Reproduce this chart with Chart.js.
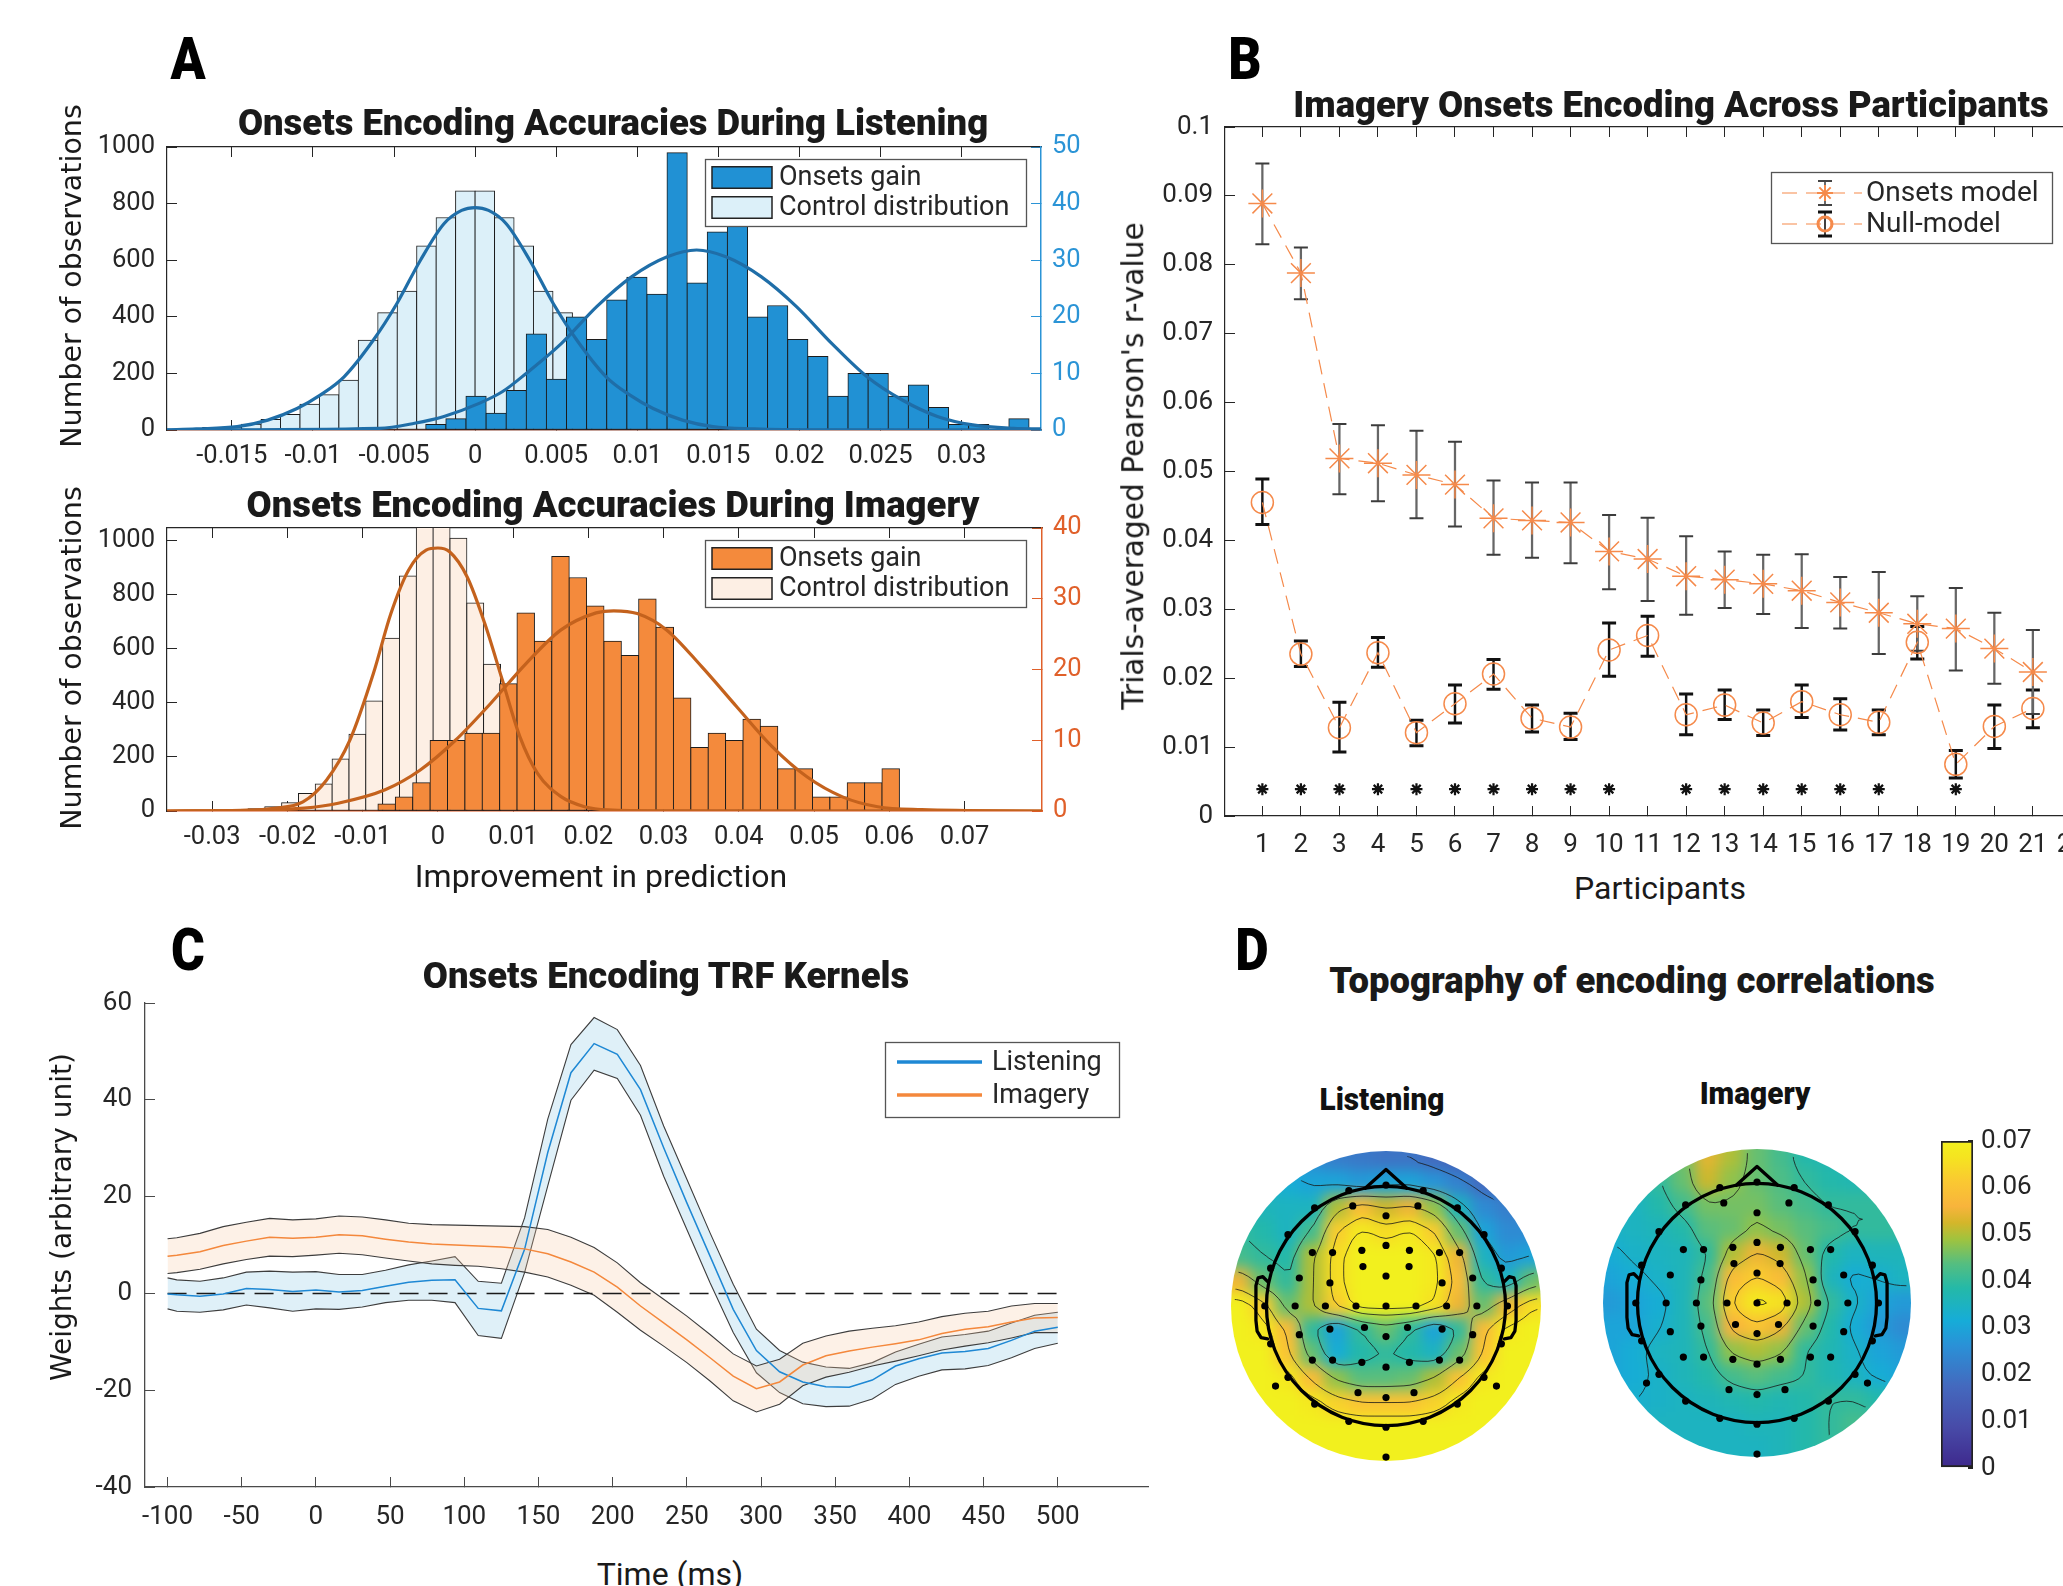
<!DOCTYPE html>
<html>
<head>
<meta charset="utf-8">
<title>Onsets encoding figure</title>
<script src="https://cdn.jsdelivr.net/npm/chart.js@4.4.1/dist/chart.umd.min.js"></script>
<style>
  html, body { margin:0; padding:0; background:#ffffff; }
  #stage { position:relative; width:2063px; height:1586px; overflow:hidden; background:#fff; }
  .t { position:absolute; white-space:nowrap; line-height:1; z-index:5; }
  .ttl { font-family: Roboto, 'Noto Sans', sans-serif; font-weight:900; font-size:37px; color:#1a1a1a; transform: translate(-50%,-50%) scaleX(0.985); }
  .letter { font-family: Roboto, sans-serif; font-weight:900; font-size:60px; color:#000; transform: translate(-50%,-50%) scaleX(0.86); }
  .ylab { font-family: 'DejaVu Sans', sans-serif; font-size:28.5px; color:#1a1a1a; transform: translate(-50%,-50%) rotate(-90deg); }
  .xlab { font-family: Roboto, sans-serif; font-size:32px; color:#1a1a1a; transform: translate(-50%,-50%); }
  .sub { font-family: Roboto, sans-serif; font-weight:900; font-size:31px; color:#111; transform: translate(-50%,-50%) scaleX(0.96); }
  .cv { position:absolute; z-index:1; }
  .cv canvas { display:block; }
</style>
</head>
<body>
<div id="stage">
  <div class="t letter" style="left:188px;top:59px;">A</div>
  <div class="t letter" style="left:1245px;top:59px;">B</div>
  <div class="t letter" style="left:188px;top:950px;">C</div>
  <div class="t letter" style="left:1252px;top:950px;">D</div>

  <div class="t ttl" style="left:613px;top:122px;">Onsets Encoding Accuracies During Listening</div>
  <div class="t ttl" style="left:613px;top:504px;">Onsets Encoding Accuracies During Imagery</div>
  <div class="t ttl" style="left:1671px;top:104px;">Imagery Onsets Encoding Across Participants</div>
  <div class="t ttl" style="left:666px;top:975px;">Onsets Encoding TRF Kernels</div>
  <div class="t ttl" style="left:1632px;top:980px;">Topography of encoding correlations</div>
  <div class="t sub" style="left:1382px;top:1099px;">Listening</div>
  <div class="t sub" style="left:1755px;top:1093px;">Imagery</div>

  <div class="t ylab" style="left:72px;top:276px;">Number of observations</div>
  <div class="t ylab" style="left:72px;top:658px;">Number of observations</div>
  <div class="t xlab" style="left:601px;top:876px;">Improvement in prediction</div>
  <div class="t ylab" style="left:1134px;top:466px;font-size:29.6px;">Trials-averaged Pearson's r-value</div>
  <div class="t xlab" style="left:1660px;top:888px;">Participants</div>
  <div class="t ylab" style="left:62px;top:1217px;font-size:28px;">Weights (arbitrary unit)</div>
  <div class="t xlab" style="left:670px;top:1574px;">Time (ms)</div>
</div>
<script>
// ======================= DATA =======================
// ---- Panel A (top): listening ----
const aTopControlX = [-0.0174,-0.0162,-0.015,-0.0138,-0.0126,-0.0114,-0.0102,-0.009,-0.0078,-0.0066,-0.0054,-0.0042,-0.003,-0.0018,-0.0006,0.0006,0.0018,0.003,0.0042,0.0054,0.0066,0.0078,0.009,0.0102,0.0114,0.0126,0.0138,0.015,0.0162];
const aTopControlCounts = [4,9,10,21,38,55,92,125,176,318,415,491,651,751,845,845,751,651,491,415,318,176,125,92,55,38,21,10,6];
const aTopGainX = [-0.00242,-0.00118,0.00006,0.0013,0.00254,0.00378,0.00502,0.00626,0.0075,0.00874,0.00998,0.01122,0.01246,0.0137,0.01494,0.01618,0.01742,0.01866,0.0199,0.02114,0.02238,0.02362,0.02486,0.0261,0.02734,0.02858,0.02982,0.03106,0.0323,0.03354];
const aTopGainCounts = [1,2,6,3,7,17,9,20,16,23,27,24,49,26,35,36,20,22,16,13,6,10,10,6,8,4,1,1,0,2];
const aTopControlFitX = [-0.019,-0.0172,-0.01467,-0.01279,-0.01098,-0.00953,-0.00808,-0.00627,-0.00482,-0.00337,-0.00192,-0.00083,0,0.00083,0.00192,0.00337,0.00482,0.00627,0.00808,0.00953,0.01098,0.01279,0.01467,0.0172,0.021,0.0349];
const aTopControlFitY = [0.5,4,12,35,76,124,188,318,447,600,729,776,786,776,729,600,447,318,188,124,76,35,12,4,0.5,0];
const aTopGainFitX = [-0.019,-0.0059,-0.00373,-0.00192,0.00025,0.0017,0.00315,0.00533,0.0075,0.00967,0.01185,0.01366,0.01547,0.01764,0.01982,0.02199,0.02417,0.02634,0.02851,0.03069,0.03322,0.0349];
const aTopGainFitY = [0,0.3,1.2,2.4,4.7,6.8,10,15.3,21.8,27.1,30.6,31.8,30.6,27.1,21.8,15.3,9.4,5.3,2.4,0.9,0.3,0.2];
const aTopXTicks = [-0.015,-0.01,-0.005,0,0.005,0.01,0.015,0.02,0.025,0.03];
const aTopXLabels = ['-0.015','-0.01','-0.005','0','0.005','0.01','0.015','0.02','0.025','0.03'];
const aTopLeftTicks = [0,200,400,600,800,1000];
const aTopRightTicks = [0,10,20,30,40,50];

// ---- Panel A (bottom): imagery ----
const aBotControlX = [-0.02859,-0.02635,-0.02411,-0.02188,-0.01964,-0.0174,-0.01517,-0.01293,-0.01069,-0.00846,-0.00622,-0.00398,-0.00174,0.00049,0.00273,0.00497,0.0072,0.00944,0.01167,0.01391,0.01615,0.01838,0.02062,0.02286];
const aBotControlCounts = [6,4,9,16,31,65,100,193,284,407,639,869,1150,1100,1009,769,543,360,237,151,53,22,10,4];
const aBotGainX = [-0.0068,-0.00449,-0.00218,0.00013,0.00244,0.00475,0.00706,0.00937,0.01168,0.01399,0.0163,0.01861,0.02092,0.02323,0.02554,0.02785,0.03016,0.03247,0.03478,0.03709,0.0394,0.04171,0.04402,0.04633,0.04864,0.05095,0.05326,0.05557,0.05788,0.06019];
const aBotGainCounts = [1,2,4,10,10,11,11,18,28,24,36,33,29,24,22,30,26,16,9,11,10,13,12,6,6,2,2,4,4,6];
const aBotControlFitX = [-0.036,-0.026,-0.02182,-0.01793,-0.01481,-0.01169,-0.00857,-0.00624,-0.0039,-0.00156,0,0.00156,0.0039,0.00624,0.00857,0.01091,0.01325,0.01637,0.01949,0.0226,0.03,0.0803];
const aBotControlFitY = [0,2,10,34,114,262,508,730,890,964,972,958,865,693,484,274,139,53,16,4,0.5,0];
const aBotGainFitX = [-0.036,-0.025,-0.01777,-0.01325,-0.00701,-0.00234,0.00234,0.00701,0.01169,0.01637,0.02104,0.02338,0.0265,0.0304,0.03507,0.03975,0.04443,0.0491,0.05378,0.05846,0.0643,0.0803];
const aBotGainFitY = [0,0.1,0.4,1.1,3.0,5.8,10,15.2,20.8,25.6,28,28.3,27.9,25.6,20.4,14.7,9.1,4.8,2.0,0.6,0.2,0];
const aBotXTicks = [-0.03,-0.02,-0.01,0,0.01,0.02,0.03,0.04,0.05,0.06,0.07];
const aBotXLabels = ['-0.03','-0.02','-0.01','0','0.01','0.02','0.03','0.04','0.05','0.06','0.07'];
const aBotLeftTicks = [0,200,400,600,800,1000];
const aBotRightTicks = [0,10,20,30,40];

// ---- Panel B: participants ----
const participants = [1,2,3,4,5,6,7,8,9,10,11,12,13,14,15,16,17,18,19,20,21];
const onsetsMean = [0.0889,0.0788,0.0519,0.0512,0.0495,0.0481,0.0432,0.0429,0.0426,0.0384,0.0373,0.0348,0.0343,0.0337,0.0327,0.0310,0.0295,0.0279,0.0272,0.0243,0.0209];
const onsetsHi   = [0.0947,0.0825,0.0569,0.0567,0.0559,0.0543,0.0487,0.0484,0.0484,0.0437,0.0433,0.0406,0.0384,0.0379,0.0380,0.0347,0.0354,0.0319,0.0331,0.0295,0.0270];
const onsetsLo   = [0.0830,0.0750,0.0467,0.0457,0.0432,0.0420,0.0379,0.0375,0.0367,0.0329,0.0312,0.0292,0.0302,0.0293,0.0273,0.0272,0.0235,0.0240,0.0211,0.0192,0.0148];
const nullMean   = [0.0455,0.0235,0.0128,0.0237,0.0121,0.0163,0.0206,0.0142,0.0129,0.0241,0.0262,0.0147,0.0161,0.0135,0.0166,0.0147,0.0136,0.0252,0.0075,0.0130,0.0156];
const nullHi     = [0.0489,0.0254,0.0165,0.0259,0.0139,0.0190,0.0227,0.0161,0.0149,0.0280,0.0290,0.0177,0.0183,0.0154,0.0190,0.0170,0.0154,0.0275,0.0095,0.0161,0.0183];
const nullLo     = [0.0423,0.0217,0.0093,0.0216,0.0102,0.0135,0.0184,0.0122,0.0111,0.0203,0.0232,0.0118,0.0140,0.0117,0.0143,0.0125,0.0118,0.0228,0.0055,0.0098,0.0128];
const sigParticipants = [1,2,3,4,5,6,7,8,9,10,12,13,14,15,16,17,19];
const sigMarkY = 0.0039;
const bXTicks = [1,2,3,4,5,6,7,8,9,10,11,12,13,14,15,16,17,18,19,20,21,22];
const bXLabels = ['1','2','3','4','5','6','7','8','9','10','11','12','13','14','15','16','17','18','19','20','21','22'];
const bYTicks = [0,0.01,0.02,0.03,0.04,0.05,0.06,0.07,0.08,0.09,0.1];
const bYLabels = ['0','0.01','0.02','0.03','0.04','0.05','0.06','0.07','0.08','0.09','0.1'];

// ---- Panel C: TRF kernels ----
const cTimes = [-100,-93.75,-78.13,-62.5,-46.88,-31.25,-15.63,0,15.63,31.25,46.88,62.5,78.13,93.75,109.38,125,140.63,156.25,171.88,187.5,203.13,218.75,234.38,250,265.63,281.25,296.88,312.5,328.13,343.75,359.38,375,390.63,406.25,421.88,437.5,453.13,468.75,484.38,500];
const listenMean  = [-0.1,-0.3,-0.6,-0.1,1.0,0.8,0.4,0.7,0.3,0.6,1.5,2.3,2.7,2.8,-3.1,-3.6,9.1,29.1,45.6,51.6,49.4,42.1,30.1,18.7,7.7,-3.3,-11.8,-16.2,-18.3,-19.3,-19.4,-17.9,-15.0,-13.5,-12.3,-12.0,-11.4,-9.7,-7.8,-7.0];
const listenUpper = [3.2,2.8,2.5,3.2,4.4,4.6,4.4,4.5,3.9,3.9,4.8,5.9,6.7,7.6,2.5,2.1,15.6,36.0,51.4,57.0,54.5,47.1,34.6,23.6,12.5,1.9,-7.4,-11.8,-14.2,-15.2,-15.5,-14.3,-12.1,-10.5,-9.0,-8.5,-7.8,-6.1,-4.5,-3.9];
const listenLower = [-3.2,-3.7,-3.9,-3.4,-2.4,-3.0,-3.7,-3.2,-3.3,-2.8,-1.9,-1.4,-1.4,-1.9,-8.7,-9.3,4.3,22.2,39.9,46.1,44.4,36.8,24.2,13.2,2.2,-8.1,-16.4,-20.5,-22.8,-23.4,-23.3,-21.8,-18.8,-17.1,-15.8,-15.6,-14.9,-13.3,-11.4,-10.3];
const imagMean  = [7.7,7.9,8.6,9.9,10.8,11.6,11.4,11.6,12.1,11.9,11.2,10.6,10.2,10.0,9.8,9.6,9.2,8.2,6.5,4.4,1.3,-2.6,-6.1,-9.6,-13.3,-17.1,-19.7,-18.3,-14.8,-12.9,-11.9,-11.1,-10.4,-9.6,-8.3,-7.4,-6.9,-5.9,-5.1,-5.0];
const imagUpper = [11.3,11.5,12.4,13.8,14.7,15.5,15.2,15.4,16.0,15.8,15.2,14.5,14.2,14.1,14.0,13.9,13.8,13.2,11.6,9.5,6.3,2.2,-1.2,-4.7,-8.5,-12.5,-15.0,-13.6,-10.3,-8.8,-7.8,-7.2,-6.7,-5.9,-4.8,-4.1,-3.7,-2.6,-2.1,-2.1];
const imagLower = [4.1,4.3,5.0,6.1,7.0,7.7,7.6,7.9,8.3,8.0,7.3,6.7,6.1,5.8,5.6,5.1,4.4,3.4,1.7,-0.4,-3.9,-7.6,-10.9,-14.3,-18.1,-22.2,-24.5,-22.9,-19.1,-17.3,-16.3,-15.0,-14.0,-12.9,-11.7,-10.9,-10.2,-9.2,-8.1,-8.1];
const cZeroLineX = [-100, 500];
const cXTicks = [-100,-50,0,50,100,150,200,250,300,350,400,450,500];
const cXLabels = ['-100','-50','0','50','100','150','200','250','300','350','400','450','500'];
const cYTicks = [-40,-20,0,20,40,60];
const cYLabels = ['-40','-20','0','20','40','60'];

// ---- Panel D: topographies (grid rows from front (top) to back) ----
const topoGridU = [-1.4,-1.2,-1.0,-0.8,-0.6,-0.4,-0.2,0,0.2,0.4,0.6,0.8,1.0,1.2,1.4];
const topoGridV = [1.4,1.2,1.0,0.8,0.6,0.4,0.2,0,-0.2,-0.4,-0.6,-0.8,-1.0,-1.2,-1.4];
const listeningTopo = [
  [0.033,0.033,0.030,0.028,0.025,0.022,0.021,0.020,0.020,0.018,0.015,0.011,0.009,0.008,0.008],
  [0.033,0.033,0.030,0.028,0.025,0.022,0.021,0.020,0.020,0.018,0.015,0.011,0.009,0.008,0.008],
  [0.035,0.035,0.034,0.032,0.030,0.030,0.028,0.030,0.030,0.027,0.023,0.018,0.014,0.012,0.012],
  [0.037,0.037,0.036,0.035,0.035,0.050,0.058,0.052,0.055,0.048,0.035,0.025,0.022,0.020,0.020],
  [0.040,0.040,0.038,0.035,0.042,0.062,0.068,0.065,0.068,0.062,0.045,0.030,0.025,0.025,0.025],
  [0.045,0.042,0.040,0.038,0.050,0.065,0.070,0.070,0.070,0.068,0.055,0.035,0.028,0.030,0.032],
  [0.058,0.055,0.045,0.040,0.050,0.065,0.070,0.070,0.070,0.068,0.058,0.040,0.035,0.045,0.050],
  [0.070,0.070,0.062,0.045,0.050,0.062,0.070,0.070,0.070,0.066,0.055,0.045,0.055,0.065,0.068],
  [0.070,0.070,0.068,0.058,0.040,0.030,0.040,0.045,0.040,0.030,0.040,0.058,0.068,0.070,0.070],
  [0.070,0.070,0.070,0.060,0.045,0.032,0.038,0.040,0.038,0.035,0.045,0.060,0.070,0.070,0.070],
  [0.070,0.070,0.070,0.068,0.058,0.048,0.044,0.044,0.045,0.050,0.060,0.068,0.070,0.070,0.070],
  [0.070,0.070,0.070,0.070,0.068,0.063,0.060,0.060,0.060,0.063,0.068,0.070,0.070,0.070,0.070],
  [0.070,0.070,0.070,0.070,0.070,0.070,0.070,0.070,0.070,0.070,0.070,0.070,0.070,0.070,0.070],
  [0.070,0.070,0.070,0.070,0.070,0.070,0.070,0.070,0.070,0.070,0.070,0.070,0.070,0.070,0.070],
  [0.070,0.070,0.070,0.070,0.070,0.070,0.070,0.070,0.070,0.070,0.070,0.070,0.070,0.070,0.070]
];
const imageryTopo = [
  [0.035,0.035,0.036,0.040,0.046,0.054,0.050,0.045,0.042,0.038,0.037,0.036,0.036,0.036,0.036],
  [0.035,0.035,0.036,0.040,0.046,0.054,0.050,0.045,0.042,0.038,0.037,0.036,0.036,0.036,0.036],
  [0.035,0.035,0.036,0.040,0.045,0.052,0.048,0.045,0.043,0.040,0.038,0.037,0.037,0.037,0.037],
  [0.034,0.034,0.035,0.038,0.042,0.046,0.046,0.046,0.044,0.042,0.040,0.040,0.040,0.040,0.040],
  [0.034,0.034,0.035,0.036,0.038,0.044,0.045,0.048,0.046,0.044,0.042,0.040,0.040,0.040,0.040],
  [0.032,0.032,0.034,0.035,0.036,0.040,0.050,0.055,0.052,0.045,0.038,0.035,0.036,0.036,0.036],
  [0.030,0.030,0.032,0.034,0.036,0.042,0.058,0.062,0.058,0.048,0.036,0.032,0.033,0.035,0.035],
  [0.028,0.028,0.030,0.032,0.036,0.044,0.062,0.068,0.066,0.050,0.040,0.034,0.030,0.028,0.028],
  [0.030,0.030,0.030,0.033,0.036,0.042,0.056,0.060,0.055,0.045,0.038,0.032,0.028,0.025,0.025],
  [0.030,0.030,0.032,0.035,0.036,0.040,0.048,0.050,0.048,0.040,0.037,0.034,0.030,0.028,0.028],
  [0.030,0.030,0.032,0.034,0.036,0.038,0.042,0.044,0.042,0.040,0.037,0.035,0.032,0.030,0.030],
  [0.032,0.032,0.033,0.034,0.035,0.036,0.037,0.038,0.037,0.038,0.040,0.040,0.038,0.036,0.036],
  [0.034,0.034,0.034,0.035,0.035,0.035,0.035,0.036,0.036,0.038,0.040,0.042,0.042,0.040,0.040],
  [0.035,0.035,0.035,0.035,0.035,0.035,0.035,0.035,0.036,0.038,0.040,0.041,0.041,0.040,0.040],
  [0.035,0.035,0.035,0.035,0.035,0.035,0.035,0.035,0.036,0.038,0.040,0.041,0.041,0.040,0.040]
];
const listeningContourLevels = [0.02, 0.03, 0.04, 0.05, 0.06, 0.066];
const imageryContourLevels = [0.033, 0.04, 0.047, 0.054, 0.061, 0.066];
const electrodeU = [0,-0.311,0.311,-0.597,-0.278,0,0.267,0.597,-0.820,0.820,-0.616,-0.447,-0.202,0,0.196,0.447,0.616,-0.965,-0.193,0.193,0.965,-0.725,-0.469,0,0.469,0.725,-1.014,-0.760,-0.507,-0.251,0,0.251,0.507,0.760,1.016,-0.725,-0.469,-0.180,0,0.180,0.469,0.725,-0.965,0.965,-0.616,-0.447,-0.202,0,0.196,0.447,0.616,-0.820,0.820,-0.924,0.924,-0.234,0,0.234,-0.597,0.597,-0.311,0,0.311,0];
const electrodeV = [1.011,0.965,0.965,0.820,0.837,0.755,0.837,0.820,0.597,0.597,0.447,0.447,0.466,0.507,0.466,0.447,0.447,0.316,0.330,0.330,0.316,0.234,0.193,0.251,0.193,0.234,0,0,0,0,0,0,0,0,0,-0.240,-0.193,-0.180,-0.256,-0.180,-0.193,-0.240,-0.316,-0.316,-0.452,-0.452,-0.471,-0.512,-0.471,-0.452,-0.452,-0.597,-0.597,-0.670,-0.670,-0.725,-0.766,-0.725,-0.820,-0.820,-0.965,-1.014,-0.965,-1.264];
const colorbarTicks = [0,0.01,0.02,0.03,0.04,0.05,0.06,0.07];
const colorbarLabels = ['0','0.01','0.02','0.03','0.04','0.05','0.06','0.07'];
const colorbarRange = [0, 0.07];

// ======================= HELPERS =======================
Chart.defaults.font.family = "Roboto, 'DejaVu Sans', sans-serif";
Chart.defaults.animation = false;
const stage = document.getElementById('stage');
function mkCanvas(left, top, w, h, parent) {
  const d = document.createElement('div');
  d.className = 'cv';
  d.style.left = left + 'px'; d.style.top = top + 'px';
  d.style.width = w + 'px'; d.style.height = h + 'px';
  const c = document.createElement('canvas');
  c.width = w; c.height = h; c.style.width = w + 'px'; c.style.height = h + 'px';
  d.appendChild(c);
  (parent || stage).appendChild(d);
  return c;
}
const xy = (xs, ys) => xs.map((x, i) => ({x: x, y: ys[i]}));
const fixW = w => s => { s.width = w; };
const fixH = h => s => { s.height = h; };
const setTicks = vals => s => { s.ticks = vals.map(v => ({value: v})); };
const pxWidth = (s, w) => Math.abs(s.getPixelForValue(w) - s.getPixelForValue(0));
const AX = '#262626';
const PADTOP = 45;
const noPlugins = { legend: {display: false}, tooltip: {enabled: false} };

function boxLegend(cfg) {
  return {
    id: 'boxLegend',
    afterDraw(chart) {
      const ctx = chart.ctx, ox = cfg.ox, oy = cfg.oy;
      const b = cfg.box;
      ctx.save();
      ctx.fillStyle = '#ffffff';
      ctx.fillRect(b[0] - ox, b[1] - oy, b[2], b[3]);
      ctx.strokeStyle = '#555'; ctx.lineWidth = 1.3;
      ctx.strokeRect(b[0] - ox + 0.5, b[1] - oy + 0.5, b[2], b[3]);
      cfg.items.forEach(it => {
        const ds = chart.data.datasets[it.ds];
        const cy = it.y - oy;
        if (it.kind === 'rect') {
          ctx.fillStyle = ds.backgroundColor;
          ctx.fillRect(it.x0 - ox, cy - it.h / 2, it.x1 - it.x0, it.h);
          ctx.strokeStyle = '#222'; ctx.lineWidth = 1.5;
          ctx.strokeRect(it.x0 - ox, cy - it.h / 2, it.x1 - it.x0, it.h);
        } else if (it.kind === 'line') {
          ctx.strokeStyle = ds.borderColor; ctx.lineWidth = 3.5;
          ctx.beginPath(); ctx.moveTo(it.x0 - ox, cy); ctx.lineTo(it.x1 - ox, cy); ctx.stroke();
        } else if (it.kind === 'err') {
          ctx.save();
          ctx.setLineDash(ds.borderDash || []);
          ctx.strokeStyle = ds.borderColor; ctx.lineWidth = 1.2;
          ctx.beginPath(); ctx.moveTo(it.x0 - ox, cy); ctx.lineTo(it.x1 - ox, cy); ctx.stroke();
          ctx.restore();
          const mx = it.mx - ox;
          ctx.strokeStyle = it.errColor; ctx.lineWidth = 1.6;
          ctx.beginPath(); ctx.moveTo(mx, cy - it.eh); ctx.lineTo(mx, cy + it.eh); ctx.stroke();
          ctx.lineWidth = it.capW;
          ctx.beginPath();
          ctx.moveTo(mx - 7, cy - it.eh); ctx.lineTo(mx + 7, cy - it.eh);
          ctx.moveTo(mx - 7, cy + it.eh); ctx.lineTo(mx + 7, cy + it.eh);
          ctx.stroke();
          ctx.strokeStyle = ds.pointBorderColor; ctx.fillStyle = 'rgba(0,0,0,0)';
          Chart.helpers.drawPoint(ctx, {pointStyle: ds.pointStyle, radius: it.mr, borderWidth: 1.5, rotation: 0}, mx, cy);
        }
        ctx.fillStyle = '#262626';
        ctx.font = cfg.font;
        ctx.textAlign = 'left'; ctx.textBaseline = 'middle';
        ctx.fillText(ds.label, cfg.textX - ox, cy + 1);
      });
      ctx.restore();
    }
  };
}

function histChart(o) {
  const top = o.plotTop - PADTOP;
  const cv = mkCanvas(o.left, top, o.w, PADTOP + 283 + 50);
  const tickFont = {family: 'Roboto', size: 25.5};
  const ch = new Chart(cv, {
    type: 'bar',
    data: {
      datasets: [
        {type: 'line', label: 'Control fit', data: xy(o.cFitX, o.cFitY), xAxisID: 'x', yAxisID: 'y',
         borderColor: o.fitColor, borderWidth: 3.2, pointRadius: 0, cubicInterpolationMode: 'monotone', order: 0},
        {type: 'line', label: 'Gain fit', data: xy(o.gFitX, o.gFitY), xAxisID: 'x', yAxisID: 'y2',
         borderColor: o.fitColor, borderWidth: 3.2, pointRadius: 0, cubicInterpolationMode: 'monotone', order: 0},
        {type: 'bar', label: 'Onsets gain', data: xy(o.gX, o.gY), xAxisID: 'xt', yAxisID: 'y2',
         backgroundColor: o.gainColor, borderColor: '#1c1c1c', borderWidth: 1, borderSkipped: false,
         barPercentage: 1, categoryPercentage: 1, grouped: false, clip: 0, order: 1},
        {type: 'bar', label: 'Control distribution', data: xy(o.cX, o.cY), xAxisID: 'x', yAxisID: 'y',
         backgroundColor: o.ctrlColor, borderColor: '#1c1c1c', borderWidth: 1, borderSkipped: false,
         barPercentage: 1, categoryPercentage: 1, grouped: false, clip: 0, order: 2}
      ]
    },
    options: {
      responsive: false, animation: false, events: [],
      layout: {padding: {top: PADTOP, right: 0, left: 0, bottom: 0}},
      plugins: noPlugins,
      scales: {
        x: {type: 'linear', position: 'bottom', min: o.xmin, max: o.xmax, offset: false,
            afterBuildTicks: setTicks(o.xTicks), afterFit: fixH(50),
            grid: {drawOnChartArea: false, tickLength: -10, tickColor: AX, offset: false},
            border: {color: o.baseColor, width: 1.5},
            ticks: {callback: (v, i) => o.xLabels[i], color: AX, font: tickFont, padding: 21, maxRotation: 0, autoSkip: false}},
        xt: {type: 'linear', axis: 'x', position: 'top', min: o.xmin, max: o.xmax, offset: false,
            afterBuildTicks: setTicks(o.xTicks), afterFit: fixH(0),
            grid: {drawOnChartArea: false, tickLength: -10, tickColor: AX, offset: false},
            border: {color: AX, width: 1.2}, ticks: {display: false}},
        y: {type: 'linear', position: 'left', min: 0, max: o.ymax,
            afterBuildTicks: setTicks(o.yTicks), afterFit: fixW(80),
            grid: {drawOnChartArea: false, tickLength: -10, tickColor: AX},
            border: {color: AX, width: 1.2},
            ticks: {callback: v => String(v), color: AX, font: tickFont, padding: 22}},
        y2: {type: 'linear', position: 'right', min: 0, max: o.y2max,
            afterBuildTicks: setTicks(o.y2Ticks), afterFit: fixW(60),
            grid: {drawOnChartArea: false, tickLength: -10, tickColor: o.rightColor},
            border: {color: o.rightColor, width: 1.5},
            ticks: {callback: v => String(v), color: o.rightColor, font: tickFont, padding: 21}}
      }
    },
    plugins: [boxLegend({ox: o.left, oy: top, box: o.legBox, font: '27px Roboto', textX: 779,
      items: [
        {ds: 2, kind: 'rect', x0: 712, x1: 772, h: 21.5, y: o.legY[0]},
        {ds: 3, kind: 'rect', x0: 712, x1: 772, h: 21.5, y: o.legY[1]}
      ]})]
  });
  // histogram bars span exactly one bin width on their own axis
  ch.data.datasets[2].barThickness = pxWidth(ch.scales.xt, o.gX[1] - o.gX[0]) + 0.4;
  ch.data.datasets[3].barThickness = pxWidth(ch.scales.x, o.cX[1] - o.cX[0]) + 0.4;
  ch.update();
  return ch;
}

// ======================= PANEL A =======================
histChart({left: 87, plotTop: 147, w: 1014,
  cX: aTopControlX, cY: aTopControlCounts, gX: aTopGainX, gY: aTopGainCounts,
  cFitX: aTopControlFitX, cFitY: aTopControlFitY, gFitX: aTopGainFitX, gFitY: aTopGainFitY,
  xmin: -0.019, xmax: 0.0349, xTicks: aTopXTicks, xLabels: aTopXLabels,
  ymax: 1000, yTicks: aTopLeftTicks, y2max: 50, y2Ticks: aTopRightTicks,
  ctrlColor: '#dcf0f9', gainColor: '#2191d4', fitColor: '#1f6ea8', rightColor: '#2b94d6', baseColor: '#8e4634',
  legBox: [705, 159, 321, 67], legY: [177.5, 207.5]});

histChart({left: 87, plotTop: 528, w: 1015,
  cX: aBotControlX, cY: aBotControlCounts, gX: aBotGainX, gY: aBotGainCounts,
  cFitX: aBotControlFitX, cFitY: aBotControlFitY, gFitX: aBotGainFitX, gFitY: aBotGainFitY,
  xmin: -0.036, xmax: 0.0803, xTicks: aBotXTicks, xLabels: aBotXLabels,
  ymax: 1046, yTicks: aBotLeftTicks, y2max: 40, y2Ticks: aBotRightTicks,
  ctrlColor: '#fdefe4', gainColor: '#f48a3c', fitColor: '#c4621d', rightColor: '#e0602a', baseColor: '#d9531e',
  legBox: [705, 540, 321, 67], legY: [558.5, 588.5]});

// ======================= PANEL B =======================
(function () {
  const L = 1140, T = 127 - PADTOP, W = 970, H = PADTOP + 689 + 50;
  const cv = mkCanvas(L, T, W, H);
  const OR = '#f58a4b';
  const tf = {family: 'Roboto', size: 26};
  new Chart(cv, {
    type: 'bar',
    data: {
      datasets: [
        {type: 'scatter', label: 'Significance', data: sigParticipants.map(p => ({x: p, y: sigMarkY})),
         pointStyle: 'star', pointRadius: 6, pointBorderWidth: 2.2, borderColor: '#111', backgroundColor: '#111', order: 0},
        {type: 'line', label: 'Onsets model', data: xy(participants, onsetsMean),
         borderColor: OR, borderWidth: 1.2, borderDash: [15, 9], pointStyle: 'star', pointRadius: 14,
         pointBorderWidth: 1.5, pointBorderColor: OR, pointBackgroundColor: 'rgba(0,0,0,0)', order: 1},
        {type: 'line', label: 'Null-model', data: xy(participants, nullMean),
         borderColor: OR, borderWidth: 1.2, borderDash: [15, 9], pointStyle: 'circle', pointRadius: 11,
         pointBorderWidth: 1.5, pointBorderColor: OR, pointBackgroundColor: 'rgba(0,0,0,0)', order: 2},
        {type: 'scatter', label: 'Onsets caps', data: xy(participants, onsetsLo).concat(xy(participants, onsetsHi)),
         pointStyle: 'line', pointRadius: 7, pointBorderWidth: 2, borderColor: '#3c3c3c', order: 3},
        {type: 'bar', label: 'Onsets error', data: participants.map((p, i) => ({x: p, y: [onsetsLo[i], onsetsHi[i]]})),
         backgroundColor: '#666', barThickness: 1.6, grouped: false, order: 4},
        {type: 'scatter', label: 'Null caps', data: xy(participants, nullLo).concat(xy(participants, nullHi)),
         pointStyle: 'line', pointRadius: 7, pointBorderWidth: 3, borderColor: '#111', order: 5},
        {type: 'bar', label: 'Null error', data: participants.map((p, i) => ({x: p, y: [nullLo[i], nullHi[i]]})),
         backgroundColor: '#111', barThickness: 1.8, grouped: false, order: 6}
      ]
    },
    options: {
      responsive: false, animation: false, events: [],
      layout: {padding: {top: PADTOP, right: 10, left: 0, bottom: 0}},
      plugins: noPlugins,
      scales: {
        x: {type: 'linear', position: 'bottom', min: 0.03, max: 22, offset: false,
            afterBuildTicks: setTicks(bXTicks), afterFit: fixH(50),
            grid: {drawOnChartArea: false, tickLength: -10, tickColor: AX, offset: false},
            border: {color: AX, width: 1.2},
            ticks: {callback: (v, i) => bXLabels[i], color: AX, font: tf, padding: 24, maxRotation: 0, autoSkip: false}},
        xt: {type: 'linear', axis: 'x', position: 'top', min: 0.03, max: 22, offset: false,
            afterBuildTicks: setTicks(bXTicks), afterFit: fixH(0),
            grid: {drawOnChartArea: false, tickLength: -10, tickColor: AX, offset: false},
            border: {color: AX, width: 1.2}, ticks: {display: false}},
        y: {type: 'linear', position: 'left', min: 0, max: 0.1,
            afterBuildTicks: setTicks(bYTicks), afterFit: fixW(85),
            grid: {drawOnChartArea: false, tickLength: -10, tickColor: AX},
            border: {color: AX, width: 1.2},
            ticks: {callback: (v, i) => bYLabels[i], color: AX, font: tf, padding: 22}}
      }
    },
    plugins: [boxLegend({ox: L, oy: T, box: [1771, 172, 281, 71], font: '28px Roboto', textX: 1866,
      items: [
        {ds: 1, kind: 'err', x0: 1782, x1: 1862, mx: 1825, y: 193, eh: 12, capW: 2, errColor: '#444', mr: 8},
        {ds: 2, kind: 'err', x0: 1782, x1: 1862, mx: 1825, y: 224, eh: 12, capW: 3, errColor: '#111', mr: 7}
      ]})]
  });
})();

// ======================= PANEL C =======================
(function () {
  const L = 75, T = 1003 - PADTOP, W = 1078, H = PADTOP + 484 + 60;
  const cv = mkCanvas(L, T, W, H);
  const tf = {family: 'Roboto', size: 26};
  const edge = '#3d3d3d';
  new Chart(cv, {
    type: 'line',
    data: {
      datasets: [
        {label: 'Listening upper', data: xy(cTimes, listenUpper), borderColor: edge, borderWidth: 1.1, pointRadius: 0,
         fill: '+1', backgroundColor: 'rgba(127,195,227,0.25)', order: 10},
        {label: 'Listening lower', data: xy(cTimes, listenLower), borderColor: edge, borderWidth: 1.1, pointRadius: 0, order: 9},
        {label: 'Imagery upper', data: xy(cTimes, imagUpper), borderColor: edge, borderWidth: 1.1, pointRadius: 0,
         fill: '+1', backgroundColor: 'rgba(247,199,159,0.25)', order: 8},
        {label: 'Imagery lower', data: xy(cTimes, imagLower), borderColor: edge, borderWidth: 1.1, pointRadius: 0, order: 7},
        {label: 'Zero', data: xy(cZeroLineX, [0, 0]), borderColor: '#1a1a1a', borderWidth: 1.5, borderDash: [19, 10], pointRadius: 0, order: 6},
        {label: 'Listening', data: xy(cTimes, listenMean), borderColor: '#1e88d4', borderWidth: 1.5, pointRadius: 0, order: 5},
        {label: 'Imagery', data: xy(cTimes, imagMean), borderColor: '#f4883c', borderWidth: 1.5, pointRadius: 0, order: 4}
      ]
    },
    options: {
      responsive: false, animation: false, events: [],
      layout: {padding: {top: PADTOP, right: 5, left: 0, bottom: 0}},
      plugins: Object.assign({filler: {propagate: false}}, noPlugins),
      scales: {
        x: {type: 'linear', position: 'bottom', min: -115.2, max: 560.8,
            afterBuildTicks: setTicks(cXTicks), afterFit: fixH(60),
            grid: {drawOnChartArea: false, tickLength: -10, tickColor: '#4a4a4a'},
            border: {color: '#4a4a4a', width: 1.3},
            ticks: {callback: (v, i) => cXLabels[i], color: AX, font: tf, padding: 25, maxRotation: 0, autoSkip: false}},
        y: {type: 'linear', position: 'left', min: -40, max: 60,
            afterBuildTicks: setTicks(cYTicks), afterFit: fixW(70),
            grid: {drawOnChartArea: false, tickLength: -10, tickColor: '#4a4a4a'},
            border: {color: '#4a4a4a', width: 1.3},
            ticks: {callback: (v, i) => cYLabels[i], color: AX, font: tf, padding: 23}}
      }
    },
    plugins: [boxLegend({ox: L, oy: T, box: [885, 1042, 234, 75], font: '27px Roboto', textX: 992,
      items: [
        {ds: 5, kind: 'line', x0: 897, x1: 982, y: 1062},
        {ds: 6, kind: 'line', x0: 897, x1: 982, y: 1095}
      ]})]
  });
})();

// ======================= PANEL D =======================
const PARULA = [[0,62,40,140],[0.125,72,75,168],[0.25,68,105,190],[0.375,42,145,215],[0.45,22,172,216],[0.55,36,185,168],[0.625,85,190,128],[0.7,160,195,62],[0.75,212,182,42],[0.8,248,180,60],[0.875,250,200,50],[0.95,245,228,32],[1,242,240,30]];
function parula(v) {
  const f = Math.max(0, Math.min(1, (v - colorbarRange[0]) / (colorbarRange[1] - colorbarRange[0])));
  for (let i = 1; i < PARULA.length; i++) {
    if (f <= PARULA[i][0]) {
      const a = PARULA[i - 1], b = PARULA[i], t = (f - a[0]) / (b[0] - a[0]);
      return 'rgb(' + [1, 2, 3].map(k => Math.round(a[k] + (b[k] - a[k]) * t)).join(',') + ')';
    }
  }
  return 'rgb(242,240,30)';
}
const headOutline = {
  id: 'headOutline',
  beforeDatasetsDraw(chart) {
    const ctx = chart.ctx, sx = chart.scales.x, sy = chart.scales.y;
    const px = u => sx.getPixelForValue(u), py = v => sy.getPixelForValue(v);
    ctx.save();
    ctx.strokeStyle = '#000'; ctx.lineWidth = 3.3; ctx.lineJoin = 'round'; ctx.lineCap = 'round';
    ctx.beginPath();
    ctx.ellipse(px(0), py(0), px(1) - px(0), py(0) - py(1), 0, 0, Math.PI * 2);
    ctx.stroke();
    const nose = [[-0.174, 0.985], [0, 1.142], [0.174, 0.985]];
    ctx.beginPath();
    nose.forEach((p, i) => i ? ctx.lineTo(px(p[0]), py(p[1])) : ctx.moveTo(px(p[0]), py(p[1])));
    ctx.stroke();
    const ear = [[-0.985, 0.2], [-1.03, 0.245], [-1.07, 0.235], [-1.088, 0.17], [-1.088, -0.12], [-1.078, -0.21], [-1.045, -0.265], [-0.99, -0.275]];
    [1, -1].forEach(sgn => {
      ctx.beginPath();
      ear.forEach((p, i) => i ? ctx.lineTo(px(sgn * p[0]), py(p[1])) : ctx.moveTo(px(sgn * p[0]), py(p[1])));
      ctx.stroke();
    });
    ctx.restore();
  }
};
// thin iso-lines of the read grid (drawn inside the disk)
function contourPlugin(grid, levels, diskUnits) {
  return {
    id: 'contours',
    beforeDatasetsDraw(chart) {
      const ctx = chart.ctx, sx = chart.scales.x, sy = chart.scales.y;
      const nU = topoGridU.length, nV = topoGridV.length, F = 4;
      const M = (nU - 1) * F + 1, N = (nV - 1) * F + 1;
      let A = [];
      for (let j = 0; j < N; j++) {
        const row = [];
        for (let i = 0; i < M; i++) {
          const gu = i / F, gv = j / F;
          const i0 = Math.min(Math.floor(gu), nU - 2), j0 = Math.min(Math.floor(gv), nV - 2);
          const tu = gu - i0, tv = gv - j0;
          row.push((1 - tu) * (1 - tv) * grid[j0][i0] + tu * (1 - tv) * grid[j0][i0 + 1] +
                   (1 - tu) * tv * grid[j0 + 1][i0] + tu * tv * grid[j0 + 1][i0 + 1]);
        }
        A.push(row);
      }
      for (let pass = 0; pass < 3; pass++) {
        const B = A.map(r => r.slice());
        for (let j = 1; j < N - 1; j++) for (let i = 1; i < M - 1; i++) {
          B[j][i] = (A[j][i] * 4 + A[j - 1][i] + A[j + 1][i] + A[j][i - 1] + A[j][i + 1]) / 8;
        }
        A = B;
      }
      const du = (topoGridU[1] - topoGridU[0]) / F, dv = (topoGridV[1] - topoGridV[0]) / F;
      const X = i => sx.getPixelForValue(topoGridU[0] + i * du);
      const Y = j => sy.getPixelForValue(topoGridV[0] + j * dv);
      ctx.save();
      ctx.beginPath();
      ctx.ellipse(sx.getPixelForValue(0), sy.getPixelForValue(0), pxWidth(sx, diskUnits), pxWidth(sy, diskUnits), 0, 0, Math.PI * 2);
      ctx.clip();
      ctx.strokeStyle = 'rgba(25,25,25,0.8)'; ctx.lineWidth = 1;
      levels.forEach(L => {
        ctx.beginPath();
        for (let j = 0; j < N - 1; j++) for (let i = 0; i < M - 1; i++) {
          const c = [[i, j, A[j][i]], [i + 1, j, A[j][i + 1]], [i + 1, j + 1, A[j + 1][i + 1]], [i, j + 1, A[j + 1][i]]];
          const pts = [];
          for (let e = 0; e < 4; e++) {
            const p = c[e], q = c[(e + 1) % 4];
            if ((p[2] < L) !== (q[2] < L)) {
              const t = (L - p[2]) / (q[2] - p[2]);
              pts.push([X(p[0] + (q[0] - p[0]) * t), Y(p[1] + (q[1] - p[1]) * t)]);
            }
          }
          for (let k = 0; k + 1 < pts.length; k += 2) {
            ctx.moveTo(pts[k][0], pts[k][1]); ctx.lineTo(pts[k + 1][0], pts[k + 1][1]);
          }
        }
        ctx.stroke();
      });
      ctx.restore();
    }
  };
}
function topoHead(cx, cy, diskR, grid, levels) {
  const S = 356, R = 1.4554;
  const left = Math.round(cx - S / 2), top = Math.round(cy - S / 2);
  const clip = document.createElement('div');
  clip.className = 'cv';
  clip.style.cssText = `left:${left}px;top:${top}px;width:${S}px;height:${S}px;clip-path:circle(${diskR}px at ${cx - left}px ${cy - top}px);`;
  stage.appendChild(clip);
  const blur = document.createElement('div');
  blur.style.cssText = `position:absolute;left:0;top:0;width:${S}px;height:${S}px;filter:blur(7px);`;
  clip.appendChild(blur);
  const hc = document.createElement('canvas');
  hc.width = S; hc.height = S; hc.style.display = 'block';
  blur.appendChild(hc);
  const pts = [];
  topoGridV.forEach((v, r) => topoGridU.forEach((u, c) => pts.push({x: u, y: v, v: grid[r][c]})));
  const sc = {x: {type: 'linear', min: -R, max: R, display: false}, y: {type: 'linear', min: -R, max: R, display: false}};
  new Chart(hc, {
    type: 'scatter',
    data: {datasets: [{label: 'map', data: pts, pointStyle: 'rect', borderWidth: 0,
      pointRadius: c => pxWidth(c.chart.scales.x, 0.2) / Math.SQRT2 + 1.5,
      backgroundColor: c => parula(c.raw ? c.raw.v : 0)}]},
    options: {responsive: false, animation: false, events: [], layout: {padding: 0}, plugins: noPlugins, scales: sc}
  });
  const oc = mkCanvas(left, top, S, S);
  oc.parentNode.style.zIndex = 2;
  const diskUnits = diskR / (S / (2 * R));
  new Chart(oc, {
    type: 'scatter',
    data: {datasets: [{label: 'Electrodes', data: xy(electrodeU, electrodeV), pointRadius: 3.6,
      backgroundColor: '#000', borderColor: '#000', borderWidth: 0}]},
    options: {responsive: false, animation: false, events: [], layout: {padding: 0}, plugins: noPlugins,
      scales: {x: {type: 'linear', min: -R, max: R, display: false}, y: {type: 'linear', min: -R, max: R, display: false}}},
    plugins: [contourPlugin(grid, levels, diskUnits), headOutline]
  });
}
topoHead(1386, 1306, 155, listeningTopo, listeningContourLevels);
topoHead(1757, 1303, 154, imageryTopo, imageryContourLevels);

// colorbar
(function () {
  const PB = 36;
  const L = 1941, T = 1141 - PB, W = 102, H = PB + 327 + PB;
  const cv = mkCanvas(L, T, W, H);
  new Chart(cv, {
    type: 'bar',
    data: {labels: ['r'], datasets: [{label: 'Colorbar', data: [colorbarRange],
      backgroundColor: c => {
        const ch = c.chart; const sy = ch.scales.y;
        if (!sy || !ch.chartArea) return '#888';
        const g = ch.ctx.createLinearGradient(0, sy.getPixelForValue(colorbarRange[0]), 0, sy.getPixelForValue(colorbarRange[1]));
        PARULA.forEach(s => g.addColorStop(s[0], 'rgb(' + s[1] + ',' + s[2] + ',' + s[3] + ')'));
        return g;
      },
      borderColor: '#222', borderWidth: 2, borderSkipped: false, barPercentage: 1, categoryPercentage: 1}]},
    options: {
      responsive: false, animation: false, events: [],
      layout: {padding: {top: PB, bottom: PB, left: 0, right: 0}},
      plugins: noPlugins,
      scales: {
        x: {display: false},
        y: {type: 'linear', position: 'right', min: 0, max: 0.07,
            afterBuildTicks: setTicks(colorbarTicks), afterFit: fixW(70),
            grid: {drawOnChartArea: false, tickLength: -5, tickColor: '#222', lineWidth: 2},
            border: {display: false},
            ticks: {callback: (v, i) => colorbarLabels[i], color: AX, font: {family: 'Roboto', size: 26}, padding: 13}}
      }
    }
  });
})();
</script>
</body>
</html>
